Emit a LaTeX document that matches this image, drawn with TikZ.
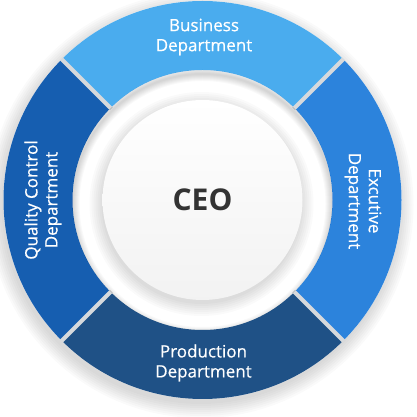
\documentclass[tikz,border=0pt]{standalone}
\usepackage{fontspec}
\setmainfont{Open Sans}
\newfontfamily\deptfont{Open Sans}[FakeBold=0.5]
\definecolor{bizblue}{HTML}{4AACEE}
\definecolor{exeblue}{HTML}{2C83DC}
\definecolor{prodblue}{HTML}{1F5186}
\definecolor{qcblue}{HTML}{165EB0}
\definecolor{sepgray}{HTML}{D6D9DC}
\definecolor{ceotext}{HTML}{333333}

\begin{document}
\begin{tikzpicture}[x=1pt,y=1pt,
  dept/.style={text=white,align=center,font=\deptfont\fontsize{17}{20}\selectfont},
  ceo/.style={text=ceotext,font=\fontsize{30}{32}\selectfont\bfseries},
  sep/.style={sepgray,line width=4pt}]
  \useasboundingbox (0,0) rectangle (416,417);
  \coordinate (c) at (202.5,217);

  % soft shadow under the ring
  \foreach \r in {199,201,...,213}
    \fill[black,opacity=0.018] ([shift={(-2,-5)}]c) circle (\r);
  \fill[white] (c) circle (199);

  % the four departments
  \fill[bizblue] ([shift={(45:199)}]c) arc[start angle=45,end angle=135,radius=199]
    -- ([shift={(135:130)}]c) arc[start angle=135,end angle=45,radius=130] -- cycle;
  \fill[qcblue] ([shift={(135:199)}]c) arc[start angle=135,end angle=225,radius=199]
    -- ([shift={(225:130)}]c) arc[start angle=225,end angle=135,radius=130] -- cycle;
  \fill[prodblue] ([shift={(225:199)}]c) arc[start angle=225,end angle=315,radius=199]
    -- ([shift={(315:130)}]c) arc[start angle=315,end angle=225,radius=130] -- cycle;
  \fill[exeblue] ([shift={(315:199)}]c) arc[start angle=315,end angle=405,radius=199]
    -- ([shift={(45:130)}]c) arc[start angle=45,end angle=-45,radius=130] -- cycle;
  \foreach \a in {45,135,225,315}
    \draw[sep] ([shift={(\a:129)}]c) -- ([shift={(\a:199.5)}]c);

  % inner shadow of the ring
  \begin{scope}
    \clip (c) circle (130);
    \foreach \w in {2,4,...,14}
      \draw[black,opacity=0.025,line width=\w pt] ([shift={(0,-4)}]c) circle (130);
  \end{scope}

  % centre disc
  \foreach \r in {100,102,...,112}
    \fill[black,opacity=0.02] ([shift={(-1,-4)}]c) circle (\r);
  \shade[top color=white,bottom color=black!5] (c) circle (100);

  \node[ceo] (ceo) at (c) {CEO};
  \node[dept] (biz) at (204,380) {Business\\Department};
  \node[dept] (prod) at (203.5,54) {Production\\Department};
  \node[dept,rotate=90] (qc) at (43,217) {Quality Control\\Department};
  \node[dept,rotate=-90] (exe) at (363,216) {Excutive\\Department};
\end{tikzpicture}
\end{document}
